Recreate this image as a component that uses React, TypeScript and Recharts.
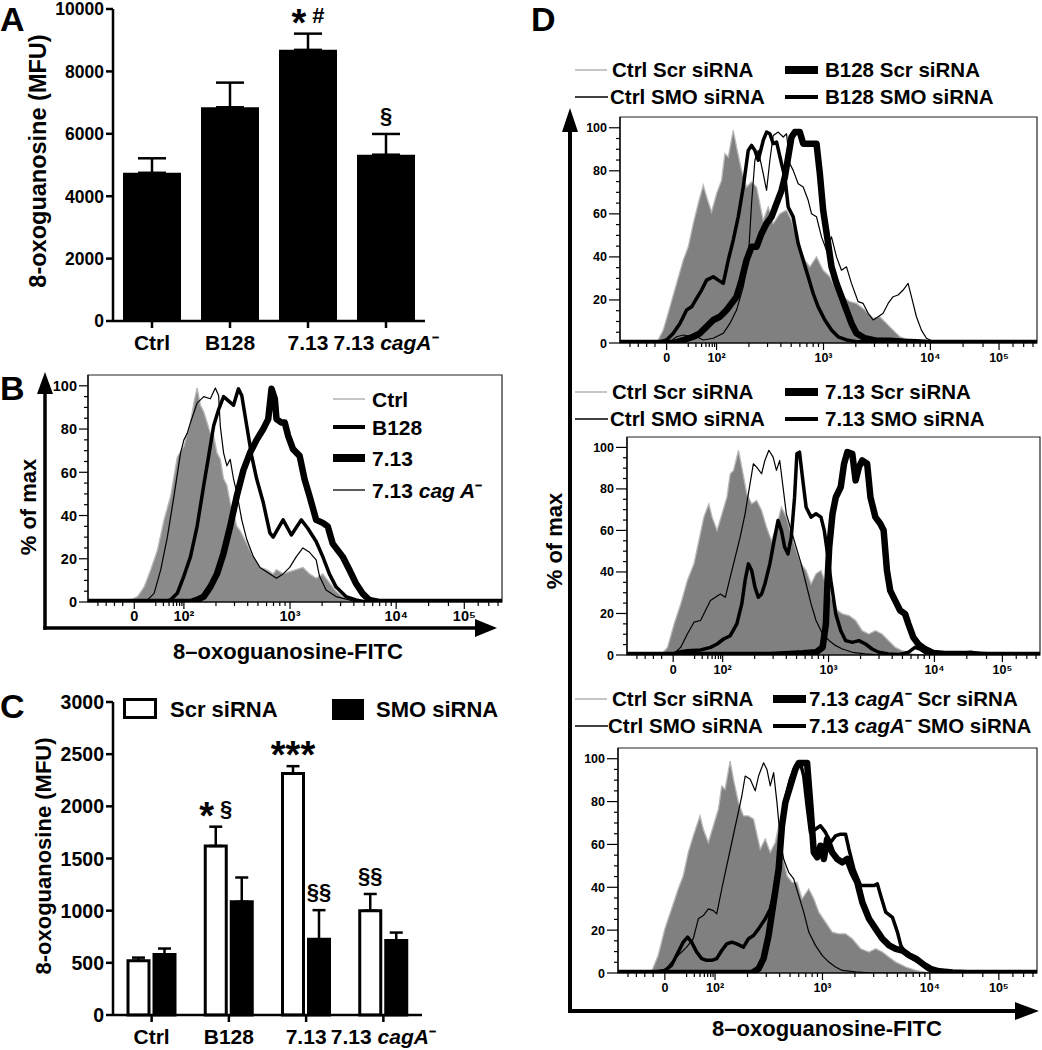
import React from 'react';
import { BarChart, Bar, XAxis, YAxis, ErrorBar, LabelList, ComposedChart, Line, Area, ReferenceArea } from 'recharts';

const FONT = '"Liberation Sans", Arial, Helvetica, sans-serif';

// ---------- panel A ----------
const groups = ['Ctrl', 'B128', '7.13', '7.13 cagA⁻'];
const aMean = [4750, 6850, 8690, 5330];
const aSem = [465, 790, 520, 665];
const aMarks = ['', '', '* #', '§'];
const aTicks = [0, 2000, 4000, 6000, 8000, 10000];

// ---------- panel C ----------
const siNames = ['Scr siRNA', 'SMO siRNA'];
const cScr = [520, 1620, 2315, 1000];
const cScrSem = [30, 185, 70, 160];
const cSmo = [580, 1085, 725, 715];
const cSmoSem = [57, 233, 280, 75];
const cScrMarks = ['', '* §', '***', '§§'];
const cSmoMarks = ['', '', '§§', ''];
const cTicks = [0, 500, 1000, 1500, 2000, 2500, 3000];

// ---------- histogram axes (display channel scale) ----------
const hDomain = [10, 1262];
const hMajor = [150, 300, 621, 942, 1148];
const hMajorLabels = ['0', '10²', '10³', '10⁴', '10⁵'];
const hMinor = [40, 65, 90, 115, 215, 238, 255, 268, 278, 287, 294, 397, 453, 493, 524, 550, 571, 590, 606, 718, 774, 814, 845, 871, 892, 911, 927, 1040, 1100, 1190, 1222, 1250];
const hYTicks = [0, 5, 10, 15, 20, 25, 30, 35, 40, 45, 50, 55, 60, 65, 70, 75, 80, 85, 90, 95, 100];

// ---------- panel B histograms [channel, % of max] ----------
const bNames = ['Ctrl', 'B128', '7.13', '7.13 cag A⁻'];
const bCtrl = [[10,0],[130,0],[140,1],[160,2.5],[180,7],[200,15],[220,24],[240,38],[260,49],[280,67],[300,72],[320,83],[330,92],[340,99],[350,91],[360,88],[370,83],[380,78],[390,77],[400,69],[410,66],[420,57],[430,54],[440,46],[450,41],[460,35],[470,33],[490,27],[510,21],[530,16],[550,15],[570,13],[580,15],[600,13],[620,14],[640,15],[660,16],[680,13],[700,11],[720,13],[740,9],[760,5],[780,2.5],[800,1],[830,0],[1262,0]];
const bB128 = [[10,0],[240,0],[260,1],[280,4],[300,12],[320,21],[340,35],[360,54],[375,67.6],[390,81.5],[405,89],[420,95],[435,93],[450,91],[465,98.6],[475,95.5],[490,81.5],[505,67.6],[520,57],[540,46],[560,32],[570,30],[585,34],[600,38],[625,31],[655,38],[675,34],[700,28],[720,21],[740,13],[760,7],[790,2.5],[820,1],[850,0],[1262,0]];
const b713 = [[10,0],[320,0],[340,1],[360,2.5],[380,7],[400,13],[420,22.6],[440,35],[460,49],[480,61],[500,69],[520,75],[540,80],[555,84.6],[565,98.6],[575,94],[580,84.6],[595,83],[605,83],[615,77],[630,70.7],[650,67.6],[665,56.7],[680,49],[700,38],[720,36.6],[735,35],[750,27],[765,24],[780,21],[800,15],[820,8.7],[840,4],[860,1],[890,0],[1262,0]];
const bCagA = [[10,0],[170,0],[190,1],[210,4],[230,15],[250,30],[270,49],[290,69],[300,75],[310,78],[320,83],[340,92],[360,95],[380,94],[395,99],[405,95.5],[410,81.5],[420,69],[430,63],[440,66],[450,57],[460,50.5],[475,38],[490,29],[510,21],[530,16],[560,13],[580,11],[600,13],[620,16],[640,21],[660,25],[680,23],[700,19.5],[710,12],[730,5.5],[760,2.5],[800,1],[820,0],[1262,0]];

// ---------- panel D histograms ----------
const d1Names = ['Ctrl Scr siRNA', 'Ctrl SMO siRNA', 'B128 Scr siRNA', 'B128 SMO siRNA'];
const d1CtrlScr = [[10,0],[120,0],[140,6],[160,16.8],[180,27.7],[200,38.5],[215,44.7],[230,55.5],[245,64.8],[260,73.3],[270,67.9],[285,60.9],[300,69.4],[315,75.6],[325,88],[335,86.4],[350,98.8],[360,91],[375,80.2],[390,72.5],[405,74.8],[420,72.5],[440,57],[455,63.2],[470,55.5],[490,60.1],[510,61.7],[525,57],[545,46.2],[565,38.5],[580,35.4],[600,40],[620,33.8],[640,30.8],[660,24.6],[680,21.5],[700,19.2],[720,18.4],[745,15.3],[770,11.4],[790,12.2],[810,9.1],[830,6],[850,2.9],[880,1.4],[920,0],[1262,0]];
const d1CtrlSmo = [[10,0],[150,0],[160,0.6],[180,2.9],[200,3.7],[215,3.2],[240,2.9],[260,1.4],[290,2.2],[320,4.5],[340,9.1],[360,15.3],[380,26.1],[395,38.5],[405,64.8],[415,84.9],[425,89.5],[440,78.7],[450,70.9],[460,84.9],[470,96.4],[485,98],[500,95.7],[510,97.2],[520,83.3],[530,80.2],[545,74],[560,72.5],[575,66.3],[585,60.1],[600,58.6],[615,49.3],[630,43.1],[645,49.3],[660,40],[675,33.8],[690,35.4],[705,27.7],[725,19.2],[740,18.4],[755,13.8],[770,10.7],[785,12.2],[800,13.8],[815,18.4],[830,21.5],[845,22.3],[860,24.6],[875,27.7],[885,21.5],[900,12.2],[915,6],[930,2.2],[960,0],[1262,0]];
const d1Scr = [[10,0],[170,0],[200,1.4],[230,2.9],[250,4.5],[270,7.6],[290,10.7],[310,12.2],[330,15.3],[345,18.4],[360,21.5],[375,29.2],[390,38.5],[405,44.7],[420,44.7],[435,50.9],[450,55.5],[465,58.6],[480,64.8],[495,70.9],[505,77.1],[515,86.4],[525,95.7],[535,98],[550,98],[560,92.6],[575,92.6],[590,92.6],[600,92.6],[610,78.7],[620,61.7],[635,46.2],[645,35.4],[660,27.7],[675,21.5],[690,15.3],[705,9.1],[720,4.5],[745,2.2],[780,1.1],[820,1.1],[860,0.6],[900,0.3],[940,0],[1262,0]];
const d1Smo = [[10,0],[120,0],[150,1.4],[170,4.5],[190,9.1],[210,15.3],[225,16.8],[240,20.7],[255,24.6],[270,29.2],[290,30.8],[305,29.2],[320,27.7],[335,38.5],[350,47.8],[365,58.6],[380,72.5],[395,89.5],[405,91.8],[415,89.5],[425,84.9],[440,94.1],[450,98],[460,97.2],[470,92.6],[480,93.4],[495,83.3],[505,77.1],[515,63.2],[530,58.6],[545,46.2],[560,38.5],[575,30.8],[590,23],[605,16.8],[625,10.7],[645,6],[665,2.9],[690,1.4],[720,0.6],[780,0.6],[830,1.4],[880,0.6],[920,0],[1262,0]];

const d2Names = ['Ctrl Scr siRNA', 'Ctrl SMO siRNA', '7.13 Scr siRNA', '7.13 SMO siRNA'];
const d2CtrlScr = [[10,0],[113,0],[133,3.7],[153,15],[173,24.6],[193,35.9],[213,43.9],[228,55.1],[243,66.4],[258,72.8],[268,66.4],[283,60],[298,68],[313,76],[323,87.3],[333,88.9],[348,98.6],[358,90.5],[373,77.7],[388,72.8],[403,74.4],[418,69.6],[433,61.6],[448,55.1],[463,61.6],[478,71.2],[493,66.4],[508,58.4],[523,50.3],[538,43.9],[553,40.7],[568,34.2],[583,39.1],[598,40.7],[613,34.2],[628,27.8],[648,21.4],[663,19.8],[683,19],[703,16.6],[723,11.7],[743,10.1],[763,11.7],[783,10.1],[803,6.9],[823,3.7],[843,2.1],[873,0.5],[903,0],[1262,0]];
const d2CtrlSmo = [[10,0],[123,0],[153,0.8],[173,3.7],[193,10.1],[213,15.8],[233,16.6],[248,21.4],[263,26.2],[278,27.8],[293,29.4],[308,27.8],[323,37.5],[338,47.1],[353,56.8],[368,68],[378,77.7],[393,92.1],[403,90.5],[418,87.3],[428,93.7],[440,98.6],[453,95.3],[463,88.9],[473,93.7],[483,80.9],[493,68],[508,60],[523,51.9],[538,43.9],[553,34.2],[568,24.6],[583,16.6],[603,10.1],[623,6.9],[643,4.5],[663,2.9],[693,1.3],[733,0.5],[783,0],[1262,0]];
const d2Scr = [[10,0],[443,0],[503,0.5],[543,0.8],[583,1.3],[603,3.7],[613,15],[618,35.9],[623,51.9],[633,68],[643,76],[658,80.9],[668,92.1],[678,97.7],[693,96.9],[703,84.1],[713,90.5],[723,93.7],[738,92.1],[748,76],[763,66.4],[778,63.2],[788,60],[798,40.7],[808,31],[823,26.2],[838,21.4],[853,19.8],[863,15],[878,8.5],[893,5.3],[913,2.9],[938,1],[973,0.5],[1023,0.5],[1063,0.2],[1103,0],[1262,0]];
const d2Smo = [[10,0],[143,0],[163,1.3],[193,2.1],[233,2.4],[263,3.7],[283,5.3],[303,7.7],[323,9.3],[343,15],[358,24.6],[368,35.9],[378,43.9],[388,40.7],[398,32.6],[408,27.8],[418,29.4],[428,34.2],[443,43.9],[458,56.8],[468,64.8],[478,60],[488,51.9],[498,48.7],[508,56.8],[518,76],[525,96.9],[533,97.7],[543,84.1],[553,71.2],[568,66.4],[583,68],[598,66.4],[608,60],[618,48.7],[628,35.9],[643,19.8],[658,11.7],[673,6.9],[693,6.1],[713,6.9],[733,5.3],[753,2.9],[773,1.3],[803,0.5],[833,0.2],[863,1.3],[883,3.7],[898,2.9],[913,1.3],[943,0.5],[1003,0.8],[1053,1.3],[1083,0.5],[1123,0],[1262,0]];

const d3Names = ['Ctrl Scr siRNA', 'Ctrl SMO siRNA', '7.13 cagA⁻ Scr siRNA', '7.13 cagA⁻ SMO siRNA'];
const d3CtrlScr = [[10,0],[110,0.5],[130,8.2],[150,20.6],[170,29.9],[190,39.2],[205,45.4],[220,56.3],[235,64],[255,73.3],[265,67.1],[280,60.9],[295,68.7],[310,76.4],[320,87.3],[330,85.7],[345,98.9],[355,90.4],[370,79.5],[385,73.3],[400,73.3],[415,71.8],[435,57.8],[450,62.5],[465,56.3],[480,60.9],[490,68.7],[500,56.3],[515,45.4],[530,42.3],[545,42.3],[560,34.6],[580,39.2],[595,34.6],[610,28.4],[630,23.7],[650,19.1],[670,18.3],[690,18.3],[710,16],[735,11.3],[760,9.8],[780,11.3],[800,9.8],[820,7.4],[840,5.1],[870,2.8],[900,1.2],[940,0],[1262,0]];
const d3CtrlSmo = [[10,0],[120,0.5],[150,1.2],[170,5.1],[190,8.2],[215,12.1],[235,16],[250,25.3],[265,26.8],[280,29.9],[295,29.1],[305,27.6],[320,39.2],[335,50.1],[350,60.9],[365,71.8],[380,82.6],[390,91.9],[405,90.4],[420,85],[430,91.9],[445,98.1],[455,95],[465,87.3],[475,93.5],[485,79.5],[495,62.5],[505,53.2],[520,47],[535,43.9],[550,36.1],[565,28.4],[580,19.1],[600,12.9],[620,8.2],[640,5.1],[660,2.8],[680,1.2],[720,0.5],[770,0],[1262,0]];
const d3Scr = [[10,0],[410,0],[430,2],[445,6.7],[460,17.5],[475,33],[490,48.5],[500,68.7],[510,79.5],[525,87.3],[540,95],[550,98],[575,98],[585,78],[595,56.3],[605,54],[615,59.4],[625,53.2],[635,62.5],[650,56.3],[665,53.2],[680,51.6],[695,53.2],[710,47],[725,42.3],[740,33],[760,25.3],[780,20.6],[800,16],[820,12.9],[840,11.3],[860,10.5],[880,8.2],[900,6.7],[920,4.3],[940,2],[970,0.8],[1010,0.2],[1050,0],[1262,0]];
const d3Smo = [[10,0],[80,0.5],[120,0.5],[150,1.2],[170,3.6],[190,9.8],[205,14.4],[218,16.7],[230,14.4],[245,9.8],[260,6.7],[275,5.9],[290,5.9],[305,6.7],[320,10.5],[335,13.6],[350,14.4],[365,13.6],[385,12.1],[400,16],[415,17.5],[430,20.6],[450,25.3],[465,29.9],[480,39.2],[490,51.6],[500,70.2],[510,81.1],[525,90.4],[540,96.6],[555,98.1],[565,91.9],[575,78],[585,65.6],[600,67.1],[615,68.7],[630,65.6],[645,60.9],[660,64],[675,64.8],[690,64.8],[700,57.8],[715,48.5],[735,40.8],[755,40.8],[775,40.8],[785,41.6],[795,36.1],[810,28.4],[830,26],[845,19.1],[855,12.9],[870,9],[890,6.7],[910,5.1],[935,3.6],[960,1.2],[990,0.5],[1040,0],[1090,0.5],[1130,0.5],[1170,0],[1262,0]];

type Kind = 'fill' | 'thin' | 'thick' | 'heavy';
const lineW: Record<Kind, number> = { fill: 1.3, thin: 1.2, thick: 3.5, heavy: 6.5 };
const keyW: Record<Kind, number> = { fill: 1.6, thin: 1.3, thick: 4, heavy: 8 };
const lineC: Record<Kind, string> = { fill: '#b8b8b8', thin: '#000', thick: '#000', heavy: '#000' };

const toRows = (pts: number[][]) => pts.map(([x, y]) => ({ x, y }));

const rich = (s: string) => {
  const m = s.match(/^(.*?)(cag ?A)(.*)$/);
  if (!m) return s;
  return (<>{m[1]}<tspan fontStyle="italic">{m[2]}</tspan>{m[3]}</>);
};

// ---------- bar chart pieces ----------
const BarYTick = (p: any) => (
  <g>
    <line x1={p.x - 7} x2={p.x} y1={p.y} y2={p.y} stroke="#000" strokeWidth={2.5} />
    <text x={p.x - 9} y={p.y} dy="0.36em" textAnchor="end" fontSize={p.fs} fontWeight="bold" fontFamily={FONT} fill="#000">{p.payload.value}</text>
  </g>
);

const GroupTick = (p: any) => (
  <g>
    <line x1={p.x} x2={p.x} y1={p.y} y2={p.y + 7} stroke="#000" strokeWidth={2.5} />
    <text x={p.x} y={p.y + 29} textAnchor="middle" fontSize={21} fontWeight="bold" fontFamily={FONT} fill="#000">{rich(String(p.payload.value))}</text>
  </g>
);

const MarkText = ({ x, y, text }: { x: number; y: number; text: string }) => {
  const tokens = text.split(' ');
  let shift = 0;
  return (
    <text x={x} y={y} textAnchor="middle" fontSize={22} fontWeight="bold" fontFamily={FONT} fill="#000">
      {tokens.map((t, i) => {
        const star = t.startsWith('*');
        const target = star ? 13 : 0;
        const dy = target - shift;
        shift = target;
        return (<tspan key={i} dy={dy} fontSize={star ? 38 : 22}>{(i ? ' ' : '') + t}</tspan>);
      })}
    </text>
  );
};

const markContent = (means: number[], sems: number[], marks: string[]) => (p: any) => {
  const vb = p.viewBox || p;
  const i = typeof p.index === 'number' ? p.index : means.indexOf(Number(p.value));
  const t = marks[i];
  if (!t) return null;
  const pxPer = vb.height / means[i];
  const top = vb.y - sems[i] * pxPer;
  return <MarkText x={vb.x + vb.width / 2} y={top - 11} text={t} />;
};

const PanelA = () => {
  const data = groups.map((name, i) => ({ name, mean: aMean[i], err: [0, aSem[i]] }));
  return (
    <BarChart width={440} height={360} data={data} margin={{ top: 9, right: 15, bottom: 38, left: 112 }} barSize={58}>
      <XAxis dataKey="name" height={1} tickSize={0} tickMargin={0} tickLine={false} interval={0} tick={(p: any) => <GroupTick {...p} />} axisLine={{ stroke: '#000', strokeWidth: 2.5 }} />
      <YAxis width={1} domain={[0, 10000]} ticks={aTicks} interval={0} tickSize={0} tickMargin={0} tickLine={false} tick={(p: any) => <BarYTick {...p} fs={17.5} />} axisLine={{ stroke: '#000', strokeWidth: 2.5 }} />
      <Bar dataKey="mean" fill="#000" isAnimationActive={false}>
        <ErrorBar dataKey="err" width={14} strokeWidth={2.5} stroke="#000" direction="y" />
        <LabelList dataKey="mean" content={markContent(aMean, aSem, aMarks)} />
      </Bar>
    </BarChart>
  );
};

const PanelC = () => {
  const data = groups.map((name, i) => ({ name, scr: cScr[i], scrErr: [0, cScrSem[i]], smo: cSmo[i], smoErr: [0, cSmoSem[i]] }));
  return (
    <BarChart width={440} height={360} data={data} margin={{ top: 12, right: 18, bottom: 34, left: 112 }} barSize={21} barGap={5}>
      <XAxis dataKey="name" height={1} tickSize={0} tickMargin={0} tickLine={false} interval={0} tick={(p: any) => <GroupTick {...p} />} axisLine={{ stroke: '#000', strokeWidth: 2.5 }} />
      <YAxis width={1} domain={[0, 3000]} ticks={cTicks} interval={0} tickSize={0} tickMargin={0} tickLine={false} tick={(p: any) => <BarYTick {...p} fs={19.5} />} axisLine={{ stroke: '#000', strokeWidth: 2.5 }} />
      <Bar dataKey="scr" name={siNames[0]} fill="#fff" stroke="#000" strokeWidth={3} isAnimationActive={false}>
        <ErrorBar dataKey="scrErr" width={6.5} strokeWidth={2.5} stroke="#000" direction="y" />
        <LabelList dataKey="scr" content={markContent(cScr, cScrSem, cScrMarks)} />
      </Bar>
      <Bar dataKey="smo" name={siNames[1]} fill="#000" stroke="#000" strokeWidth={3} isAnimationActive={false}>
        <ErrorBar dataKey="smoErr" width={6.5} strokeWidth={2.5} stroke="#000" direction="y" />
        <LabelList dataKey="smo" content={markContent(cSmo, cSmoSem, cSmoMarks)} />
      </Bar>
    </BarChart>
  );
};

// ---------- histogram ----------
const HistYTick = (p: any) => {
  const v = p.payload.value;
  const major = v % 20 === 0;
  return (
    <g>
      <line x1={p.x - (major ? p.ml : 4)} x2={p.x} y1={p.y} y2={p.y} stroke="#000" strokeWidth={1.2} />
      {major && <text x={p.x - p.ml - 2} y={p.y} dy="0.36em" textAnchor="end" fontSize={p.fs} fontWeight="bold" fontFamily={FONT} fill="#000">{v}</text>}
    </g>
  );
};

const HistXTick = (p: any) => {
  const i = hMajor.indexOf(p.payload.value);
  return (
    <g>
      <line x1={p.x} x2={p.x} y1={p.y} y2={p.y + (i >= 0 ? 7 : 4)} stroke="#000" strokeWidth={1.2} />
      {i >= 0 && <text x={p.x} y={p.y + 19} textAnchor="middle" fontSize={p.fs} fontWeight="bold" fontFamily={FONT} fill="#000">{hMajorLabels[i]}</text>}
    </g>
  );
};

type Trace = { pts: number[][]; kind: Kind };

const Histogram = ({ box, traces, fs, ml, gray }: { box: number[]; traces: Trace[]; fs: number; ml: number; gray: string }) => {
  const m = { top: 10, right: 2, bottom: 27, left: 45 };
  const xt = [...hMajor, ...hMinor].sort((a, b) => a - b);
  return (
    <div style={{ position: 'absolute', left: box[0] - m.left - 1, top: box[1] - m.top }}>
      <ComposedChart width={box[2] + m.left + m.right + 1} height={box[3] + m.top + m.bottom + 1} margin={m}>
        <XAxis type="number" dataKey="x" domain={hDomain} allowDataOverflow ticks={xt} interval={0} height={1} tickSize={0} tickMargin={0} tickLine={false} tick={(p: any) => <HistXTick {...p} fs={fs} />} axisLine={{ stroke: '#000', strokeWidth: 1.2 }} />
        <YAxis type="number" domain={[0, 105]} allowDataOverflow ticks={hYTicks} interval={0} width={1} tickSize={0} tickMargin={0} tickLine={false} tick={(p: any) => <HistYTick {...p} fs={fs} ml={ml} />} axisLine={{ stroke: '#000', strokeWidth: 1.2 }} />
        {traces.map((t, i) =>
          t.kind === 'fill' ? (
            <Area key={i} data={toRows(t.pts)} dataKey="y" type="linear" fill={gray} fillOpacity={1} stroke={lineC.fill} strokeWidth={lineW.fill} dot={false} activeDot={false} isAnimationActive={false} />
          ) : (
            <Line key={i} data={toRows(t.pts)} dataKey="y" type="linear" stroke={lineC[t.kind]} strokeWidth={lineW[t.kind]} strokeLinejoin="round" dot={false} activeDot={false} isAnimationActive={false} />
          )
        )}
        <ReferenceArea x1={hDomain[0]} x2={hDomain[1]} y1={0} y2={105} fill="none" fillOpacity={0} stroke="#222" strokeWidth={1.2} />
      </ComposedChart>
    </div>
  );
};

// ---------- static decorations ----------
const LegendRow = ({ x1, x2, tx, y, kind, label, fs }: { x1: number; x2: number; tx: number; y: number; kind: Kind; label: string; fs: number }) => (
  <g>
    <line x1={x1} x2={x2} y1={y} y2={y} stroke={lineC[kind]} strokeWidth={keyW[kind]} />
    <text x={tx} y={y + fs * 0.36} fontSize={fs}>{rich(label)}</text>
  </g>
);

const DLegend = ({ y, names, x3, tx3, tx2 }: { y: number; names: string[]; x3: number; tx3: number; tx2: number }) => (
  <g>
    <LegendRow x1={575} x2={607} tx={612} y={y} kind="fill" label={names[0]} fs={20.5} />
    <LegendRow x1={575} x2={608} tx={tx2} y={y + 27} kind="thin" label={names[1]} fs={20.5} />
    <LegendRow x1={x3} x2={x3 + 33} tx={tx3} y={y} kind="heavy" label={names[2]} fs={20.5} />
    <LegendRow x1={x3} x2={x3 + 33} tx={tx3} y={y + 27} kind="thick" label={names[3]} fs={20.5} />
  </g>
);

const Overlay = () => (
  <svg width={1042} height={1050} style={{ position: 'absolute', left: 0, top: 0, pointerEvents: 'none' }} fontFamily={FONT} fontWeight="bold" fill="#000">
    <text x={0} y={31} fontSize={34}>A</text>
    <text x={0} y={400} fontSize={34}>B</text>
    <text x={0} y={718} fontSize={34}>C</text>
    <text x={531} y={31} fontSize={34}>D</text>

    <text transform="translate(38,161) rotate(-90)" textAnchor="middle" dominantBaseline="central" fontSize={23.5}>8-oxoguanosine (MFU)</text>
    <text transform="translate(43,856) rotate(-90)" textAnchor="middle" dominantBaseline="central" fontSize={22}>8-oxoguanosine (MFU)</text>

    {/* panel B */}
    <line x1={45} x2={45} y1={629.75} y2={392} stroke="#000" strokeWidth={3.5} />
    <polygon points="45,372 37,394 53,394" />
    <line x1={43.25} x2={477} y1={628} y2={628} stroke="#000" strokeWidth={3.5} />
    <polygon points="497,628 475,619 475,637" />
    <text transform="translate(28,507) rotate(-90)" textAnchor="middle" dominantBaseline="central" fontSize={22}>% of max</text>
    <text x={288} y={659} textAnchor="middle" fontSize={22}>8–oxoguanosine-FITC</text>
    <LegendRow x1={333} x2={365} tx={372} y={399} kind="fill" label={bNames[0]} fs={21} />
    <LegendRow x1={333} x2={365} tx={372} y={427} kind="thick" label={bNames[1]} fs={21} />
    <LegendRow x1={333} x2={365} tx={372} y={458} kind="heavy" label={bNames[2]} fs={21} />
    <LegendRow x1={333} x2={365} tx={372} y={490} kind="thin" label={bNames[3]} fs={21} />

    {/* panel C legend */}
    <rect x={124.5} y={699.5} width={31} height={18} fill="#fff" stroke="#000" strokeWidth={3} />
    <text x={170} y={716.5} fontSize={22}>{siNames[0]}</text>
    <rect x={332} y={699} width={32} height={21} fill="#000" />
    <text x={376} y={716.5} fontSize={22}>{siNames[1]}</text>

    {/* panel D */}
    <line x1={570} x2={570} y1={1013} y2={130} stroke="#000" strokeWidth={4} />
    <polygon points="570,108 562,132 578,132" />
    <line x1={568} x2={1016} y1={1011} y2={1011} stroke="#000" strokeWidth={4} />
    <polygon points="1039,1011 1015,1002 1015,1020" />
    <text transform="translate(554,541) rotate(-90)" textAnchor="middle" dominantBaseline="central" fontSize={22}>% of max</text>
    <text x={827} y={1036} textAnchor="middle" fontSize={22}>8–oxoguanosine-FITC</text>
    <DLegend y={70} names={d1Names} x3={785} tx3={825} tx2={610} />
    <DLegend y={392} names={d2Names} x3={785} tx3={825} tx2={610} />
    <DLegend y={699} names={d3Names} x3={773} tx3={809} tx2={608} />
  </svg>
);

export default function App() {
  return (
    <div style={{ position: 'absolute', left: 0, top: 0, width: 1042, height: 1050, overflow: 'hidden', background: '#fff', fontFamily: FONT }}>
      <div style={{ position: 'absolute', left: 0, top: 0 }}><PanelA /></div>
      <div style={{ position: 'absolute', left: 0, top: 690 }}><PanelC /></div>
      <Histogram box={[88, 375, 414, 227]} fs={14.5} ml={9} gray="#8a8a8a"
        traces={[{ pts: bCtrl, kind: 'fill' }, { pts: bCagA, kind: 'thin' }, { pts: bB128, kind: 'thick' }, { pts: b713, kind: 'heavy' }]} />
      <Histogram box={[620, 117, 417, 226]} fs={12.5} ml={11} gray="#808080"
        traces={[{ pts: d1CtrlScr, kind: 'fill' }, { pts: d1CtrlSmo, kind: 'thin' }, { pts: d1Smo, kind: 'thick' }, { pts: d1Scr, kind: 'heavy' }]} />
      <Histogram box={[627, 437, 413, 218]} fs={12.5} ml={11} gray="#808080"
        traces={[{ pts: d2CtrlScr, kind: 'fill' }, { pts: d2CtrlSmo, kind: 'thin' }, { pts: d2Smo, kind: 'thick' }, { pts: d2Scr, kind: 'heavy' }]} />
      <Histogram box={[618, 748, 419, 225]} fs={12.5} ml={11} gray="#808080"
        traces={[{ pts: d3CtrlScr, kind: 'fill' }, { pts: d3CtrlSmo, kind: 'thin' }, { pts: d3Smo, kind: 'thick' }, { pts: d3Scr, kind: 'heavy' }]} />
      <Overlay />
    </div>
  );
}
